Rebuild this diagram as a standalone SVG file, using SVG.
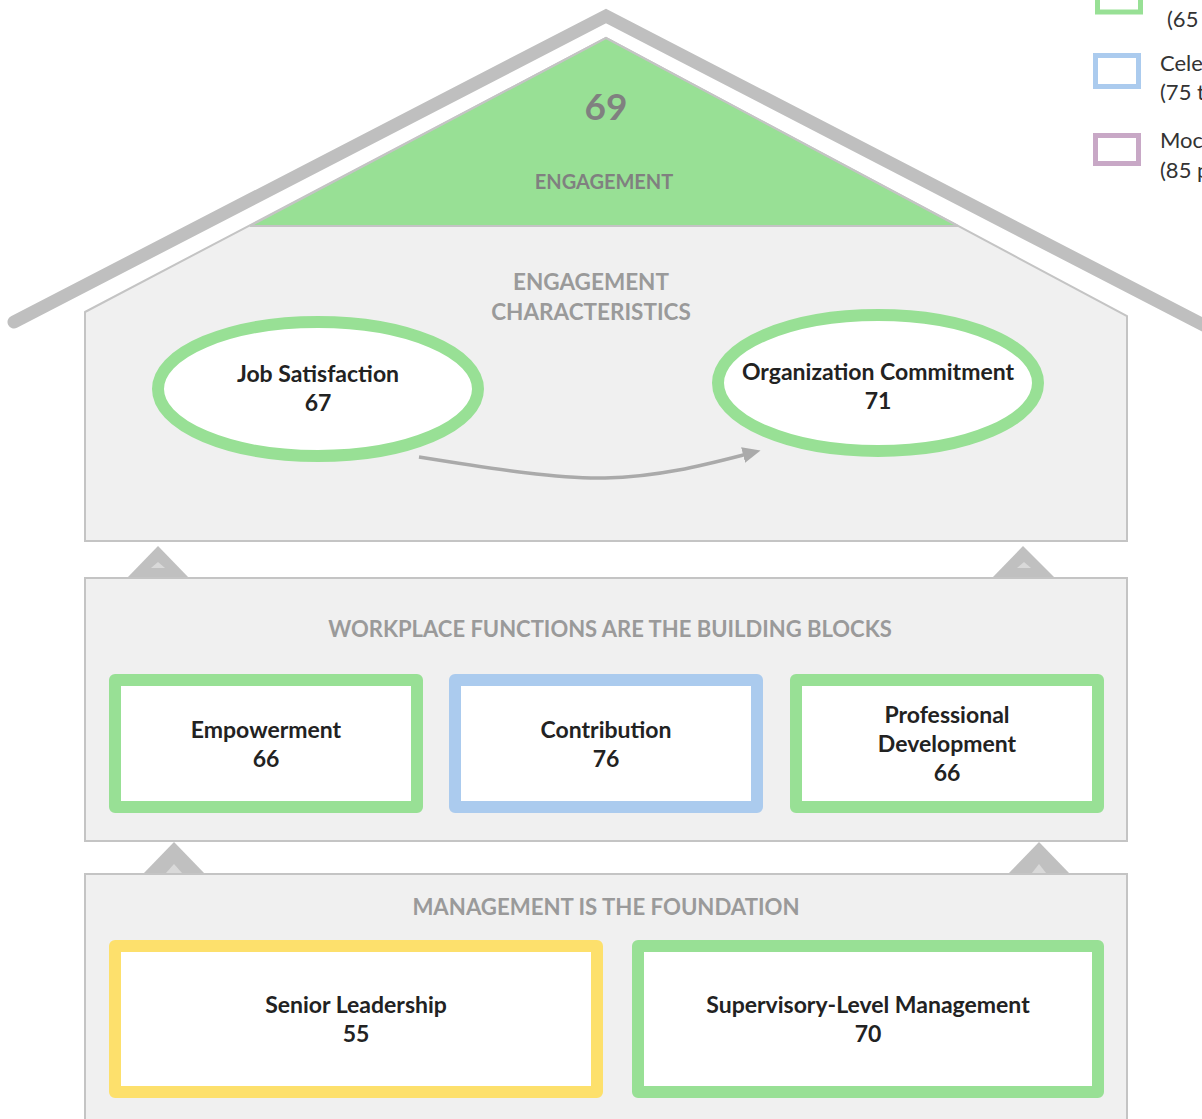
<svg xmlns="http://www.w3.org/2000/svg" width="1202" height="1119" viewBox="0 0 1202 1119">
<style>
.panel{fill:#f0f0f0;stroke:#c4c4c4;stroke-width:2}
.hdr{font-family:Lato,"Open Sans",sans-serif;font-weight:700;fill:#9a9a9a;text-anchor:middle}
.lbl{font-family:Lato,"Open Sans",sans-serif;font-weight:700;fill:#222;font-size:23px;text-anchor:middle}
.leg{font-family:Lato,"Open Sans",sans-serif;fill:#333;font-size:22px}
.g{stroke:#98e095}
.b{stroke:#abcbee}
.y{stroke:#fde06c}
.box{fill:#fff;stroke-width:12;stroke-linejoin:round}
.up{fill:#c0c0c0}
.upi{fill:#d9d9d9}
</style>
<defs>
<marker id="ah" markerWidth="18" markerHeight="16" refX="4" refY="8" orient="auto" markerUnits="userSpaceOnUse" viewBox="0 0 18 16">
<path d="M0,0 L18,8 L0,16 z" fill="#aaaaaa"/>
</marker>
</defs>
<rect width="1202" height="1119" fill="#fff"/>

<g id="roof">
<polyline points="14,322 606,16 1215,331" fill="none" stroke="#bfbfbf" stroke-width="13" stroke-linecap="round" stroke-linejoin="miter" stroke-miterlimit="10"/>
</g>

<g id="house">
<polygon class="panel" points="85,312 606,38 1127,316 1127,541 85,541"/>
<polygon points="606,38 250,226 958,226" fill="#98e095" stroke="#c4c4c4" stroke-width="2"/>
<text x="606" y="120" class="hdr" style="fill:#808080;font-size:37px">69</text>
<text x="604" y="189" class="hdr" style="fill:#808080;font-size:20px">ENGAGEMENT</text>
<text x="591" y="290" class="hdr" style="font-size:22.5px">ENGAGEMENT</text>
<text x="591" y="320" class="hdr" style="font-size:22.5px">CHARACTERISTICS</text>
</g>

<g id="job-satisfaction">
<ellipse cx="318" cy="389" rx="160" ry="67" class="box g"/>
<text x="318" y="382" class="lbl">Job Satisfaction</text>
<text x="318" y="411" class="lbl">67</text>
</g>

<g id="organization-commitment">
<ellipse cx="878" cy="383" rx="160" ry="68" class="box g"/>
<text x="878" y="380" class="lbl">Organization Commitment</text>
<text x="878" y="409" class="lbl">71</text>
</g>

<g id="up-arrows">
<polygon class="up" points="158,546 189,578 127,578"/>
<polygon class="upi" points="158,562 165,568 151,568"/>
<polygon class="up" points="1023,546 1055,578 992,578"/>
<polygon class="upi" points="1024,562 1031,568 1017,568"/>
<polygon class="up" points="174,842 205,874 143,874"/>
<polygon class="upi" points="174,864 182,873 166,873"/>
<polygon class="up" points="1039,842 1070,874 1008,874"/>
<polygon class="upi" points="1039,864 1046,873 1032,873"/>
</g>

<g id="workplace-panel">
<rect class="panel" x="85" y="578" width="1042" height="263"/>
<text x="610" y="637" class="hdr" style="font-size:22px">WORKPLACE FUNCTIONS ARE THE BUILDING BLOCKS</text>
</g>

<g id="empowerment">
<rect x="115" y="680" width="302" height="127" class="box g"/>
<text x="266" y="738" class="lbl">Empowerment</text>
<text x="266" y="767" class="lbl">66</text>
</g>
<g id="contribution">
<rect x="455" y="680" width="302" height="127" class="box b"/>
<text x="606" y="738" class="lbl">Contribution</text>
<text x="606" y="767" class="lbl">76</text>
</g>
<g id="professional-development">
<rect x="796" y="680" width="302" height="127" class="box g"/>
<text x="947" y="723" class="lbl">Professional</text>
<text x="947" y="752" class="lbl">Development</text>
<text x="947" y="781" class="lbl">66</text>
</g>

<g id="management-panel">
<rect class="panel" x="85" y="874" width="1042" height="260"/>
<text x="606" y="915" class="hdr" style="font-size:22.2px">MANAGEMENT IS THE FOUNDATION</text>
</g>

<g id="senior-leadership">
<rect x="115" y="946" width="482" height="146" class="box y"/>
<text x="356" y="1013" class="lbl">Senior Leadership</text>
<text x="356" y="1042" class="lbl">55</text>
</g>
<g id="supervisory">
<rect x="638" y="946" width="460" height="146" class="box g"/>
<text x="868" y="1013" class="lbl">Supervisory-Level Management</text>
<text x="868" y="1042" class="lbl">70</text>
</g>

<g id="connectors">
<path d="M419,457 C500,470 560,479 605,478 C660,477 708,464 747,454" fill="none" stroke="#aaaaaa" stroke-width="3.5" marker-end="url(#ah)"/>
</g>

<g id="legend">
<rect x="1097.5" y="-20" width="43" height="32" fill="#fff" stroke="#98e095" stroke-width="5"/>
<text x="1167" y="27" class="leg">(65</text>
<rect x="1095.5" y="55.5" width="43" height="31" fill="#fff" stroke="#abcbee" stroke-width="5"/>
<text x="1160" y="71" class="leg">Cele</text>
<text x="1160" y="100" class="leg">(75 t</text>
<rect x="1095.5" y="135.5" width="43" height="28" fill="#fff" stroke="#c8a8c6" stroke-width="5"/>
<text x="1160" y="148" class="leg">Moc</text>
<text x="1160" y="178" class="leg">(85 p</text>
</g>
</svg>
